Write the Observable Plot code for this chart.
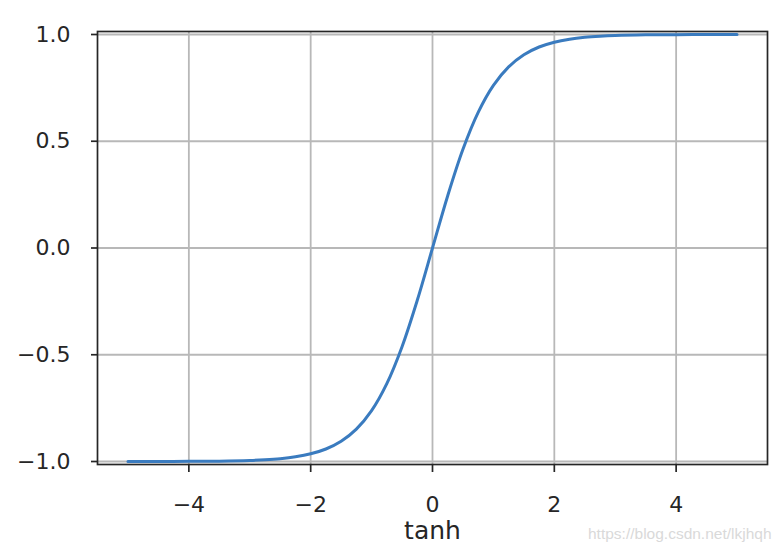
<!DOCTYPE html>
<html>
<head>
<meta charset="utf-8">
<script src="https://cdn.jsdelivr.net/npm/d3@7"></script>
<script src="https://cdn.jsdelivr.net/npm/@observablehq/plot@0.6"></script>
<style>
  html, body { margin: 0; padding: 0; background: #fff; }
  #chart { position: relative; width: 784px; height: 552px; }
  #wm { position: absolute; left: 588px; top: 525px; font-family: "Liberation Sans", Arial, sans-serif; font-size: 15.5px; color: #d9d9d9; white-space: nowrap; }
</style>
</head>
<body>
<div id="chart"></div>
<script>
// curve points
const xs = [-5, -4.5, -4, -3.5, -3, -2.75, -2.5, -2.25, -2, -1.75, -1.5, -1.25, -1, -0.75, -0.5, -0.25, 0,
            0.25, 0.5, 0.75, 1, 1.25, 1.5, 1.75, 2, 2.25, 2.5, 2.75, 3, 3.5, 4, 4.5, 5];
const ys = [-0.9999, -0.9998, -0.9993, -0.9982, -0.9951, -0.9918, -0.9866, -0.9780, -0.9640, -0.9414, -0.9051, -0.8483, -0.7616, -0.6351, -0.4621, -0.2449, 0,
            0.2449, 0.4621, 0.6351, 0.7616, 0.8483, 0.9051, 0.9414, 0.9640, 0.9780, 0.9866, 0.9918, 0.9951, 0.9982, 0.9993, 0.9998, 0.9999];
const xTicks = [-4, -2, 0, 2, 4];
const yTicks = [-1.0, -0.5, 0.0, 0.5, 1.0];
const xLabel = "tanh";
const watermark = "https://blog.csdn.net/lkjhqh";

const data = xs.map((x, i) => ({x, y: ys[i]}));
const fmt = d3.format(".1f");

const plot = Plot.plot({
  width: 784,
  height: 552,
  marginLeft: 97,
  marginRight: 17,
  marginTop: 31,
  marginBottom: 88,
  style: {fontFamily: "DejaVu Sans", fontSize: "22px", color: "#262626", background: "#fff"},
  x: {domain: [-5.5, 5.5]},
  y: {domain: [-1.014, 1.014]},
  marks: [
    Plot.gridX(xTicks, {stroke: "#b8b8b8", strokeOpacity: 1, strokeWidth: 1.8}),
    Plot.gridY(yTicks, {stroke: "#b8b8b8", strokeOpacity: 1, strokeWidth: 1.8}),
    Plot.line(data, {x: "x", y: "y", stroke: "#3a7bbf", strokeWidth: 3, curve: "catmull-rom"}),
    Plot.frame({stroke: "#262626", strokeWidth: 1.7}),
    Plot.axisX(xTicks, {tickSize: 8, tickPadding: 24, strokeWidth: 1.7, stroke: "#262626", fontSize: 22, label: null}),
    Plot.axisY(yTicks, {tickSize: 6, tickPadding: 21, strokeWidth: 1.7, stroke: "#262626", fontSize: 22, tickFormat: fmt, label: null}),
    Plot.text([xLabel], {frameAnchor: "bottom", dy: 74, fontSize: 25, fill: "#262626"})
  ]
});
document.getElementById("chart").appendChild(plot);
const wm = document.createElement("div");
wm.id = "wm";
wm.textContent = watermark;
document.getElementById("chart").appendChild(wm);
</script>
</body>
</html>
